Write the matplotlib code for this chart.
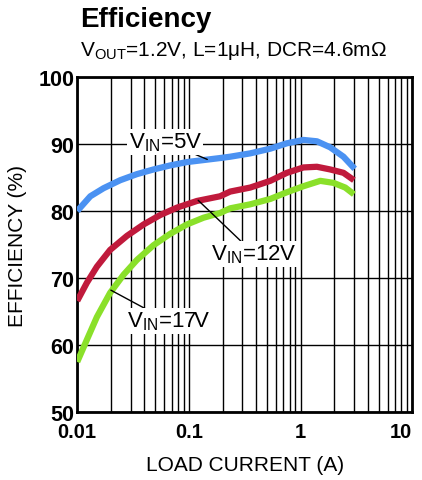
import matplotlib.pyplot as plt
from matplotlib.ticker import LogLocator, NullFormatter, FixedLocator

# load current (A) and efficiency (%)
i_5v = [0.01, 0.0131, 0.0172, 0.0243, 0.0342, 0.0482, 0.068, 0.096, 0.135, 0.19,
        0.234, 0.354, 0.535, 0.754, 1.06, 1.40, 1.84, 2.42, 3.05]
eff_5v = [80.0, 82.2, 83.4, 84.6, 85.5, 86.2, 86.8, 87.3, 87.6, 87.9,
          88.1, 88.6, 89.3, 90.1, 90.6, 90.4, 89.5, 88.1, 86.3]

i_12v = [0.01, 0.0122, 0.015, 0.0197, 0.0279, 0.0393, 0.0553, 0.078, 0.118, 0.19,
         0.234, 0.354, 0.535, 0.754, 1.06, 1.40, 1.84, 2.42, 3.0]
eff_12v = [66.6, 69.3, 71.7, 74.2, 76.3, 78.0, 79.4, 80.5, 81.5, 82.2,
           82.9, 83.5, 84.5, 85.7, 86.5, 86.6, 86.2, 85.7, 84.6]

i_17v = [0.01, 0.0122, 0.015, 0.0197, 0.026, 0.0342, 0.0482, 0.068, 0.096, 0.135,
         0.19, 0.234, 0.354, 0.535, 0.754, 1.06, 1.50, 1.97, 2.51, 3.0]
eff_17v = [57.5, 60.8, 64.2, 67.8, 70.5, 72.7, 74.9, 76.6, 78.0, 79.0,
           79.7, 80.4, 81.0, 81.8, 82.8, 83.7, 84.5, 84.2, 83.5, 82.5]

x_ticks = [0.01, 0.1, 1, 10]
x_labels = ["0.01", "0.1", "1", "10"]
y_ticks = [50, 60, 70, 80, 90, 100]

plt.rcParams['font.family'] = ['Liberation Sans', 'DejaVu Sans']
plt.rcParams['mathtext.fontset'] = 'custom'
plt.rcParams['mathtext.rm'] = 'Liberation Sans'

fig = plt.figure(figsize=(4.22, 4.81), dpi=100)
ax = fig.add_axes([0.183, 0.141, 0.794, 0.697])

ax.set_xscale('log')
ax.set_xlim(0.01, 10)
ax.set_ylim(50, 100)

ax.xaxis.set_major_locator(FixedLocator(x_ticks))
ax.set_xticklabels(x_labels)
ax.xaxis.set_minor_locator(LogLocator(base=10, subs=range(2, 10)))
ax.xaxis.set_minor_formatter(NullFormatter())
ax.set_yticks(y_ticks)

ax.grid(which='both', axis='x', color='black', lw=1.0)
ax.grid(which='major', axis='y', color='black', lw=1.0)
ax.tick_params(which='both', length=0)
ax.tick_params(axis='x', pad=7, labelsize=14.5)
ax.tick_params(axis='y', pad=2, labelsize=15.5)
for lab in ax.get_xticklabels() + ax.get_yticklabels():
    lab.set_fontweight('bold')
ax.get_xticklabels()[-1].set_ha('right')
for sp in ax.spines.values():
    sp.set_linewidth(2)

ax.plot(i_5v, eff_5v, color='#4b92f2', lw=4.5, solid_capstyle='butt', zorder=3)
ax.plot(i_12v, eff_12v, color='#c01a3c', lw=4.5, solid_capstyle='butt', zorder=3)
ax.plot(i_17v, eff_17v, color='#8ae02a', lw=4.5, solid_capstyle='butt', zorder=3)

box = dict(facecolor='white', edgecolor='none', pad=1)
lead = dict(arrowstyle='-', color='black', lw=1, shrinkA=0, shrinkB=0)
ax.annotate(r'V$_\mathregular{IN}$=5V', xy=(0.146, 87.7), xytext=(0.0614, 90.3),
            fontsize=16, ha='center', va='center', bbox=box, arrowprops=lead, zorder=4)
ax.annotate(r'V$_\mathregular{IN}$=12V', xy=(0.121, 81.6), xytext=(0.385, 73.6),
            fontsize=16, ha='center', va='center', bbox=box, arrowprops=lead, zorder=4)
ax.annotate(r'V$_\mathregular{IN}$=17V', xy=(0.0200, 68.2), xytext=(0.0653, 63.6),
            fontsize=16, ha='center', va='center', bbox=box, arrowprops=lead, zorder=4)

ax.set_xlabel('LOAD CURRENT (A)', fontsize=15, labelpad=10)
ax.set_ylabel('EFFICIENCY (%)', fontsize=15, labelpad=8)

fig.text(0.19, 0.958, 'Efficiency', fontsize=20, fontweight='bold', ha='left', va='center')
fig.text(0.19, 0.894, r'V$_\mathregular{OUT}$=1.2V, L=1μH, DCR=4.6mΩ', fontsize=15,
         ha='left', va='center')

fig.savefig('out.png', dpi=100)
